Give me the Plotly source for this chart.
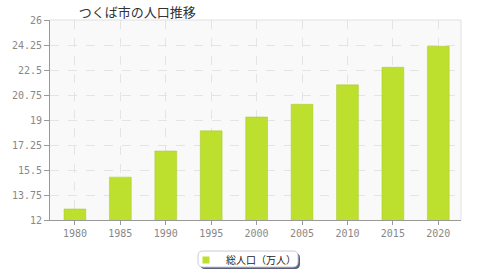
import plotly.graph_objects as go

years = ["1980", "1985", "1990", "1995", "2000", "2005", "2010", "2015", "2020"]
population = [12.77, 15.0, 16.83, 18.24, 19.21, 20.10, 21.46, 22.69, 24.16]
yticks = [12, 13.75, 15.5, 17.25, 19, 20.75, 22.5, 24.25, 26]
ytick_text = ["12", "13.75", "15.5", "17.25", "19", "20.75", "22.5", "24.25", "26"]
series_name = "総人口（万人）"
title = "つくば市の人口推移"
bar_color = "#bde02f"

fig = go.Figure()
fig.add_trace(go.Bar(
    x=years, y=population, name=series_name,
    marker=dict(color=bar_color, line=dict(color="#a8c62a", width=0.5)),
    showlegend=False,
))
# legend entry (small square like the reference)
fig.add_trace(go.Scatter(
    x=[years[0]], y=[None], mode="markers", name=series_name,
    marker=dict(symbol="square", size=7, color=bar_color),
    showlegend=True, hoverinfo="skip",
))

# rounded legend box with shadow, in paper coords (plot area 50..461 x 20..220 px)
def px_x(p):
    return (p - 50) / 411.0

def px_y(p):
    return (220 - p) / 200.0

def rounded(x0, y0, x1, y1, r):
    return (f"M {px_x(x0 + r)} {px_y(y0)} L {px_x(x1 - r)} {px_y(y0)} "
            f"Q {px_x(x1)} {px_y(y0)} {px_x(x1)} {px_y(y0 + r)} "
            f"L {px_x(x1)} {px_y(y1 - r)} Q {px_x(x1)} {px_y(y1)} {px_x(x1 - r)} {px_y(y1)} "
            f"L {px_x(x0 + r)} {px_y(y1)} Q {px_x(x0)} {px_y(y1)} {px_x(x0)} {px_y(y1 - r)} "
            f"L {px_x(x0)} {px_y(y0 + r)} Q {px_x(x0)} {px_y(y0)} {px_x(x0 + r)} {px_y(y0)} Z")

fig.update_layout(
    width=480, height=280,
    margin=dict(l=50, r=19, t=20, b=60, autoexpand=False),
    paper_bgcolor="white",
    plot_bgcolor="#f9f9f9",
    bargap=0.52,
    title=dict(text=title, x=0.286, xanchor="center", y=0.957, yanchor="middle",
               font=dict(family="Noto Sans CJK JP", size=13, color="#333")),
    font=dict(family="DejaVu Sans Mono", size=10, color="#888"),
    xaxis=dict(
        type="category",
        showgrid=True, gridcolor="#e4e4e4", griddash="dash", gridwidth=1,
        showline=True, linecolor="#999", linewidth=1,
        ticks="outside", ticklen=4, tickcolor="#999",
        tickfont=dict(family="DejaVu Sans Mono", size=10, color="#888"),
    ),
    yaxis=dict(
        range=[12, 26], tickvals=yticks, ticktext=ytick_text,
        showgrid=True, gridcolor="#e4e4e4", griddash="dash", gridwidth=1,
        showline=True, linecolor="#999", linewidth=1,
        ticks="outside", ticklen=5, tickcolor="#999",
        tickfont=dict(family="DejaVu Sans Mono", size=10, color="#888"),
        zeroline=False,
    ),
    legend=dict(
        orientation="h", xref="container", yref="container",
        x=186 / 480, xanchor="left", y=1 - 260 / 280, yanchor="middle",
        bgcolor="rgba(0,0,0,0)", borderwidth=0,
        font=dict(family="Noto Sans CJK JP", size=10, color="#222"),
        itemwidth=30,
    ),
    shapes=[
        dict(type="line", xref="paper", yref="paper", x0=0, x1=1, y0=1, y1=1,
             line=dict(color="#e0e0e0", width=1)),
        dict(type="line", xref="paper", yref="paper", x0=1, x1=1, y0=0, y1=1,
             line=dict(color="#e0e0e0", width=1)),
        dict(type="path", xref="paper", yref="paper", path=rounded(200, 253, 300, 269, 5),
             fillcolor="#5a6078", line=dict(width=0), layer="below"),
        dict(type="path", xref="paper", yref="paper", path=rounded(198, 251, 298, 267, 5),
             fillcolor="white", line=dict(color="#c8ccd8", width=1), layer="below"),
    ],
)

fig.write_html("out.html")
